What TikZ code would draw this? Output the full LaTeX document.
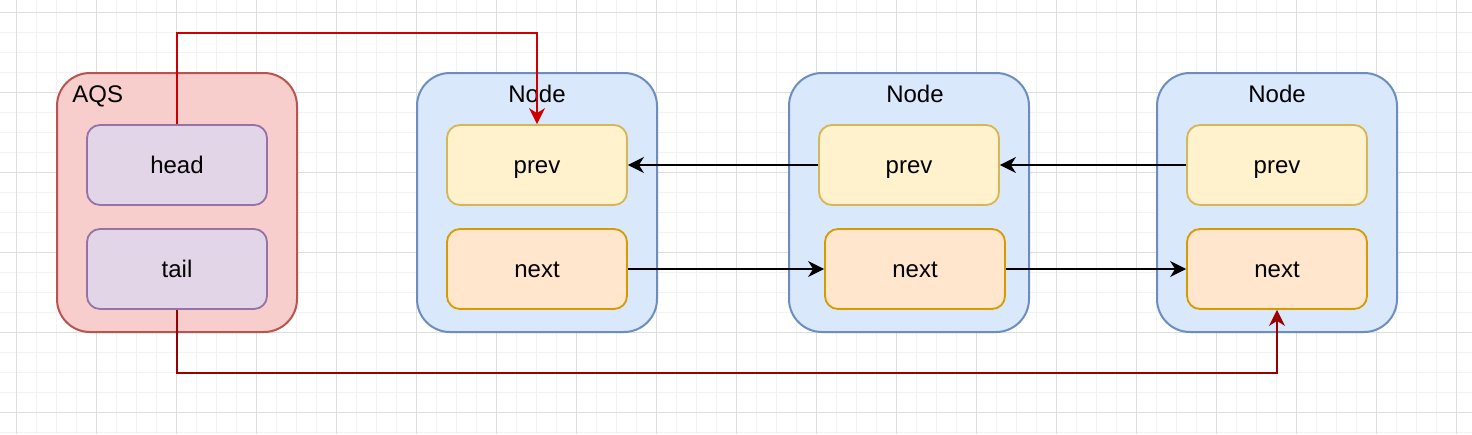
\documentclass[tikz,border=0pt]{standalone}
\usepackage{fontspec}
\setmainfont{Liberation Sans}
\usepackage{xcolor}
\usepackage{tikz}
\usetikzlibrary{arrows.meta}

\definecolor{aqsfill}{HTML}{F8CECC}
\definecolor{aqsline}{HTML}{B85450}
\definecolor{fieldfill}{HTML}{E1D5E7}
\definecolor{fieldline}{HTML}{9673A6}
\definecolor{nodefill}{HTML}{DAE8FC}
\definecolor{nodeline}{HTML}{6C8EBF}
\definecolor{prevfill}{HTML}{FFF2CC}
\definecolor{prevline}{HTML}{D6B656}
\definecolor{nextfill}{HTML}{FFE6CC}
\definecolor{nextline}{HTML}{D79B00}
\definecolor{headred}{HTML}{CC0000}
\definecolor{taildark}{HTML}{990000}

\tikzset{
  container/.style={draw, line width=1pt, rounded corners=16.5pt, minimum width=120pt, minimum height=129.5pt, inner sep=0pt},
  field/.style={draw, line width=0.9pt, rounded corners=6.5pt, minimum width=90pt, minimum height=40pt, inner sep=0pt, text height=10.5pt, text depth=2pt, font=\fontsize{12}{14}\selectfont},
  title/.style={inner sep=0pt, text height=10.5pt, text depth=2pt, font=\fontsize{12}{14}\selectfont},
  link/.style={line width=1pt, -{Stealth[length=8pt, width=8pt, inset=2.5pt]}},
}

\begin{document}
\begin{tikzpicture}[x=0.5pt, y=-0.5pt]
\useasboundingbox (0,0) rectangle (1472,434);
\fill[white] (0,0) rectangle (1472,434);
% grid
\foreach \i in {0,...,72} \draw[line width=0.5pt, black!5] (16.7+20*\i,0) -- (16.7+20*\i,434);
\foreach \i in {0,...,21} \draw[line width=0.5pt, black!5] (0,12.3+20*\i) -- (1472,12.3+20*\i);
\foreach \i in {0,...,18} \draw[line width=0.5pt, black!13] (16.7+80*\i,0) -- (16.7+80*\i,434);
\foreach \i in {0,...,5} \draw[line width=0.5pt, black!13] (0,12.3+80*\i) -- (1472,12.3+80*\i);

% AQS
\node[container, draw=aqsline, fill=aqsfill] (aqs) at (177,202.5) {};
\node[title, anchor=west] (aqslabel) at (72,94) {AQS};
\node[field, draw=fieldline, fill=fieldfill] (head) at (177,165) {head};
\node[field, draw=fieldline, fill=fieldfill] (tail) at (177,269) {tail};

% nodes
\node[container, draw=nodeline, fill=nodefill] (nodeA) at (537,202.5) {};
\node[container, draw=nodeline, fill=nodefill] (nodeB) at (909,202.5) {};
\node[container, draw=nodeline, fill=nodefill] (nodeC) at (1277,202.5) {};
\node[title] (titleA) at (537,94) {Node};
\node[title] (titleB) at (915,94) {Node};
\node[title] (titleC) at (1277,94) {Node};

\node[field, draw=prevline, fill=prevfill] (prevA) at (537,165) {prev};
\node[field, draw=nextline, fill=nextfill] (nextA) at (537,269) {next};
\node[field, draw=prevline, fill=prevfill] (prevB) at (909,165) {prev};
\node[field, draw=nextline, fill=nextfill] (nextB) at (915,269) {next};
\node[field, draw=prevline, fill=prevfill] (prevC) at (1277,165) {prev};
\node[field, draw=nextline, fill=nextfill] (nextC) at (1277,269) {next};

% links
\draw[link] (prevB.west) -- (prevA.east);
\draw[link] (prevC.west) -- (prevB.east);
\draw[link] (nextA.east) -- (nextB.west);
\draw[link] (nextB.east) -- (nextC.west);

\draw[link, headred] (head.north) -- (177,33) -| (prevA.north);
\draw[link, taildark] (tail.south) -- (177,373) -| (nextC.south);
\end{tikzpicture}
\end{document}
